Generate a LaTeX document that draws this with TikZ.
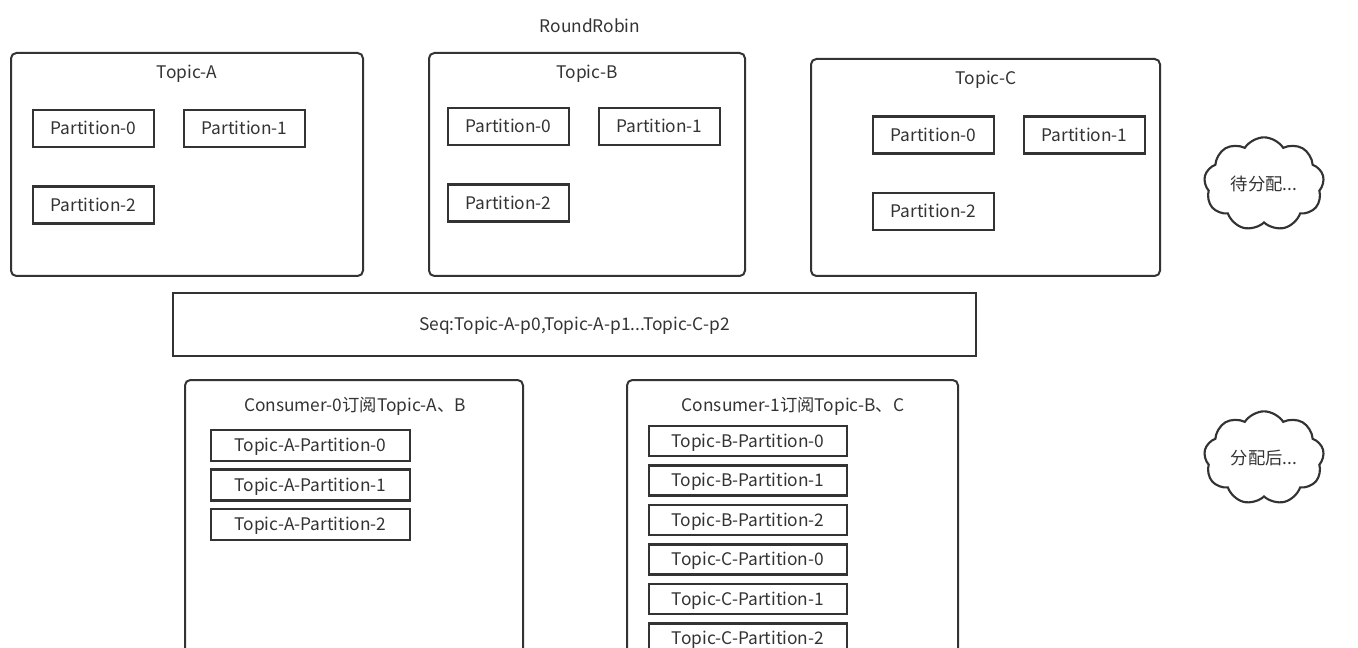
\documentclass[tikz,border=0pt]{standalone}
\usepackage{fontspec}
\setmainfont{Noto Sans CJK SC}
\usetikzlibrary{shapes.symbols}
\definecolor{ink}{HTML}{333333}
\tikzset{
  px/.style={x=0.75pt,y=-0.75pt},
  topicbox/.style={draw=ink,line width=1.5pt,rounded corners=4pt,inner sep=0pt},
  txtpos/.style={text height=12.6pt,text depth=3pt},
  partbox/.style={draw=ink,line width=1.8pt,inner sep=0pt,minimum width=90.75pt,minimum height=27.75pt,text=ink,txtpos},
  itembox/.style={draw=ink,line width=1.8pt,inner sep=0pt,text=ink,txtpos},
  lbl/.style={text=ink,inner sep=0pt},
  cloudbox/.style={cloud,cloud puffs=9,cloud puff arc=115,aspect=1.3,draw=ink,line width=1.6pt,inner sep=0pt,minimum width=90pt,minimum height=70pt,text=ink}
}
\begin{document}
\begin{tikzpicture}[px,font=\fontsize{13}{15}\selectfont]
\useasboundingbox (0,0) rectangle (1358,648);
\clip (0,0) rectangle (1358,648);
\node[lbl] (rr) at (590,26) {RoundRobin};
% Topic A
\node[topicbox,minimum width=264pt,minimum height=167.25pt] (ta) at (187,164.5) {};
\node[lbl] (tat) at (187,74) {Topic-A};
\node[partbox] (ta0) at (93.5,128.5) {Partition-0};
\node[partbox] (ta1) at (244.5,128.5) {Partition-1};
\node[partbox] (ta2) at (93.5,205) {Partition-2};
% Topic B
\node[topicbox,minimum width=237pt,minimum height=167.25pt] (tb) at (587,164.5) {};
\node[lbl] (tbt) at (587,74) {Topic-B};
\node[partbox] (tb0) at (508.5,126.5) {Partition-0};
\node[partbox] (tb1) at (659.5,126.5) {Partition-1};
\node[partbox] (tb2) at (508.5,203) {Partition-2};
% Topic C
\node[topicbox,minimum width=261.75pt,minimum height=162.75pt] (tc) at (985.5,167.5) {};
\node[lbl] (tct) at (986,80) {Topic-C};
\node[partbox] (tc0) at (933.5,135) {Partition-0};
\node[partbox] (tc1) at (1084.5,135) {Partition-1};
\node[partbox] (tc2) at (933.5,211.5) {Partition-2};
% cloud 1
\node[cloudbox] (c1) at (1264,184) {待分配...};
% Seq
\node[draw=ink,line width=1.5pt,inner sep=0pt,minimum width=602.25pt,minimum height=47.25pt,text=ink,txtpos] (seq) at (574.5,324.5) {Seq:Topic-A-p0,Topic-A-p1...Topic-C-p2};
% Consumer 0
\node[topicbox,minimum width=253.5pt,minimum height=255pt] (k0) at (354,550) {};
\node[lbl] (k0t) at (355,406) {Consumer-0订阅Topic-A、B};
\node[itembox,minimum width=149.25pt,minimum height=23.25pt] (k00) at (310.5,445.5) {Topic-A-Partition-0};
\node[itembox,minimum width=149.25pt,minimum height=23.25pt] (k01) at (310.5,485) {Topic-A-Partition-1};
\node[itembox,minimum width=149.25pt,minimum height=23.25pt] (k02) at (310.5,524.5) {Topic-A-Partition-2};
% Consumer 1
\node[topicbox,minimum width=248.25pt,minimum height=255pt] (k1) at (792.5,550) {};
\node[lbl] (k1t) at (793,406) {Consumer-1订阅Topic-B、C};
\node[itembox,minimum width=148.5pt,minimum height=22.5pt] (k10) at (748,441) {Topic-B-Partition-0};
\node[itembox,minimum width=148.5pt,minimum height=22.5pt] (k11) at (748,480.5) {Topic-B-Partition-1};
\node[itembox,minimum width=148.5pt,minimum height=22.5pt] (k12) at (748,520) {Topic-B-Partition-2};
\node[itembox,minimum width=148.5pt,minimum height=22.5pt] (k13) at (748,559.5) {Topic-C-Partition-0};
\node[itembox,minimum width=148.5pt,minimum height=22.5pt] (k14) at (748,599) {Topic-C-Partition-1};
\node[itembox,minimum width=148.5pt,minimum height=22.5pt] (k15) at (748,638.5) {Topic-C-Partition-2};
% cloud 2
\node[cloudbox] (c2) at (1264,458) {分配后...};
\end{tikzpicture}
\end{document}
